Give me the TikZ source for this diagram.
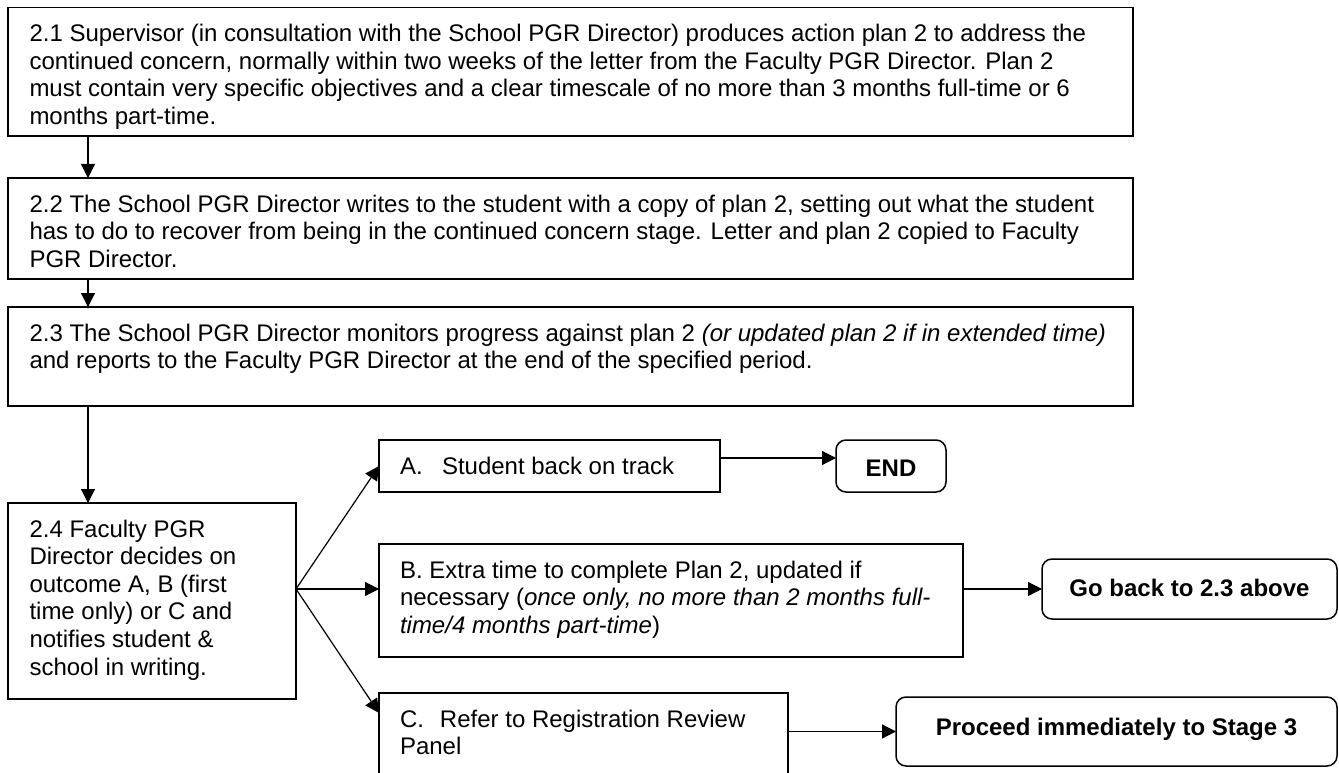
\documentclass[tikz,border=0pt]{standalone}
\usepackage{fontspec}
\setmainfont{Liberation Sans}
\usetikzlibrary{arrows.meta,calc}
\newcommand\mystrut{\rule{0pt}{20pt}}
\begin{document}
\begin{tikzpicture}[x=1pt,y=-1pt,
  box/.style={draw, line width=1.5pt, rectangle, inner sep=0pt, outer sep=0pt, anchor=north west},
  rbox/.style={box, rounded corners=10pt},
  txt/.style={inner sep=0pt, outer sep=0pt, anchor=north west, align=left, font=\fontsize{24}{27.6}\selectfont},
  btxt/.style={inner sep=0pt, outer sep=0pt, anchor=base, font=\fontsize{24}{27.6}\selectfont\bfseries},
  arr/.style={line width=1.2pt, -{Triangle[length=14pt,width=14pt]}}]
\useasboundingbox (0,0) rectangle (1339,773);
\clip (0,0) rectangle (1339,773);

% main column
\node[box, minimum width=1125pt, minimum height=128.5pt] (b21) at (8,7.5) {};
\node[box, minimum width=1125pt, minimum height=101pt] (b22) at (8,178) {};
\node[box, minimum width=1125pt, minimum height=99pt] (b23) at (8,307) {};
\node[box, minimum width=288pt, minimum height=196pt] (b24) at (8,503) {};

\node[txt] (t21) at ($(b21.north west)+(21.5,14)$) {\mystrut 2.1 Supervisor (in consultation with the School PGR Director) produces action plan 2 to address the\\
continued concern, normally within two weeks of the letter from the Faculty PGR Director. Plan 2\\
must contain very specific objectives and a clear timescale of no more than 3 months full-time or 6\\
months part-time.};
\node[txt] (t22) at ($(b22.north west)+(21.5,14)$) {\mystrut 2.2 The School PGR Director writes to the student with a copy of plan 2, setting out what the student\\
has to do to recover from being in the continued concern stage. Letter and plan 2 copied to Faculty\\
PGR Director.};
\node[txt] (t23) at ($(b23.north west)+(21.5,14)$) {\mystrut 2.3 The School PGR Director monitors progress against plan 2 \textit{(or updated plan 2 if in extended time)}\\
and reports to the Faculty PGR Director at the end of the specified period.};
\node[txt] (t24) at ($(b24.north west)+(21.5,14)$) {\mystrut 2.4 Faculty PGR\\
Director decides on\\
outcome A, B (first\\
time only) or C and\\
notifies student \&\\
school in writing.};

% outcome boxes
\node[box, minimum width=341pt, minimum height=52pt] (bA) at (379,440) {};
\node[box, minimum width=584pt, minimum height=113pt] (bB) at (379,544) {};
\node[box, minimum width=409pt, minimum height=120pt] (bC) at (379,693) {};

\node[txt] (tA) at ($(bA.north west)+(21,14)$) {\mystrut\makebox[42pt][l]{A.}Student back on track};
\node[txt] (tB) at ($(bB.north west)+(21,14)$) {\mystrut B. Extra time to complete Plan 2, updated if\\
necessary (\textit{once only, no more than 2 months full-}\\
\textit{time/4 months part-time})};
\node[txt] (tC) at ($(bC.north west)+(21,14)$) {\mystrut\makebox[40pt][l]{C.}Refer to Registration Review\\
Panel};

% terminal boxes
\node[rbox, minimum width=110pt, minimum height=52pt] (bEnd) at (836,440) {};
\node[rbox, minimum width=295pt, minimum height=60pt] (bGo) at (1042,559) {};
\node[rbox, minimum width=441pt, minimum height=69pt] (bPro) at (896,697) {};

\node[btxt] (tEnd) at ($(bEnd.center)+(0,10)$) {END};
\node[btxt] (tGo) at ($(bGo.center)+(0,7)$) {Go back to 2.3 above};
\node[btxt] (tPro) at ($(bPro.center)+(0,3.5)$) {Proceed immediately to Stage 3};

% connectors
\coordinate (ax) at (88,0);
\draw[arr] (b21.south -| ax) -- (b22.north -| ax);
\draw[arr] (b22.south -| ax) -- (b23.north -| ax);
\draw[arr] (b23.south -| ax) -- (b24.north -| ax);

\coordinate (fork) at ($(b24.north east)+(0,86)$);
\coordinate (cin) at ($(bC.north west)+(0,20)$);
\coordinate (aline) at ($(bA.north east)+(0,18)$);
\draw[arr] (fork) -- (bA.west);
\draw[arr] (fork) -- (bB.west |- fork);
\draw[arr] (fork) -- (cin);

\draw[arr] (aline) -- (bEnd.west |- aline);
\draw[arr] (bB.east |- bGo.center) -- (bGo.west);
\draw[arr] (bC.east |- bPro.center) -- (bPro.west);
\end{tikzpicture}
\end{document}
